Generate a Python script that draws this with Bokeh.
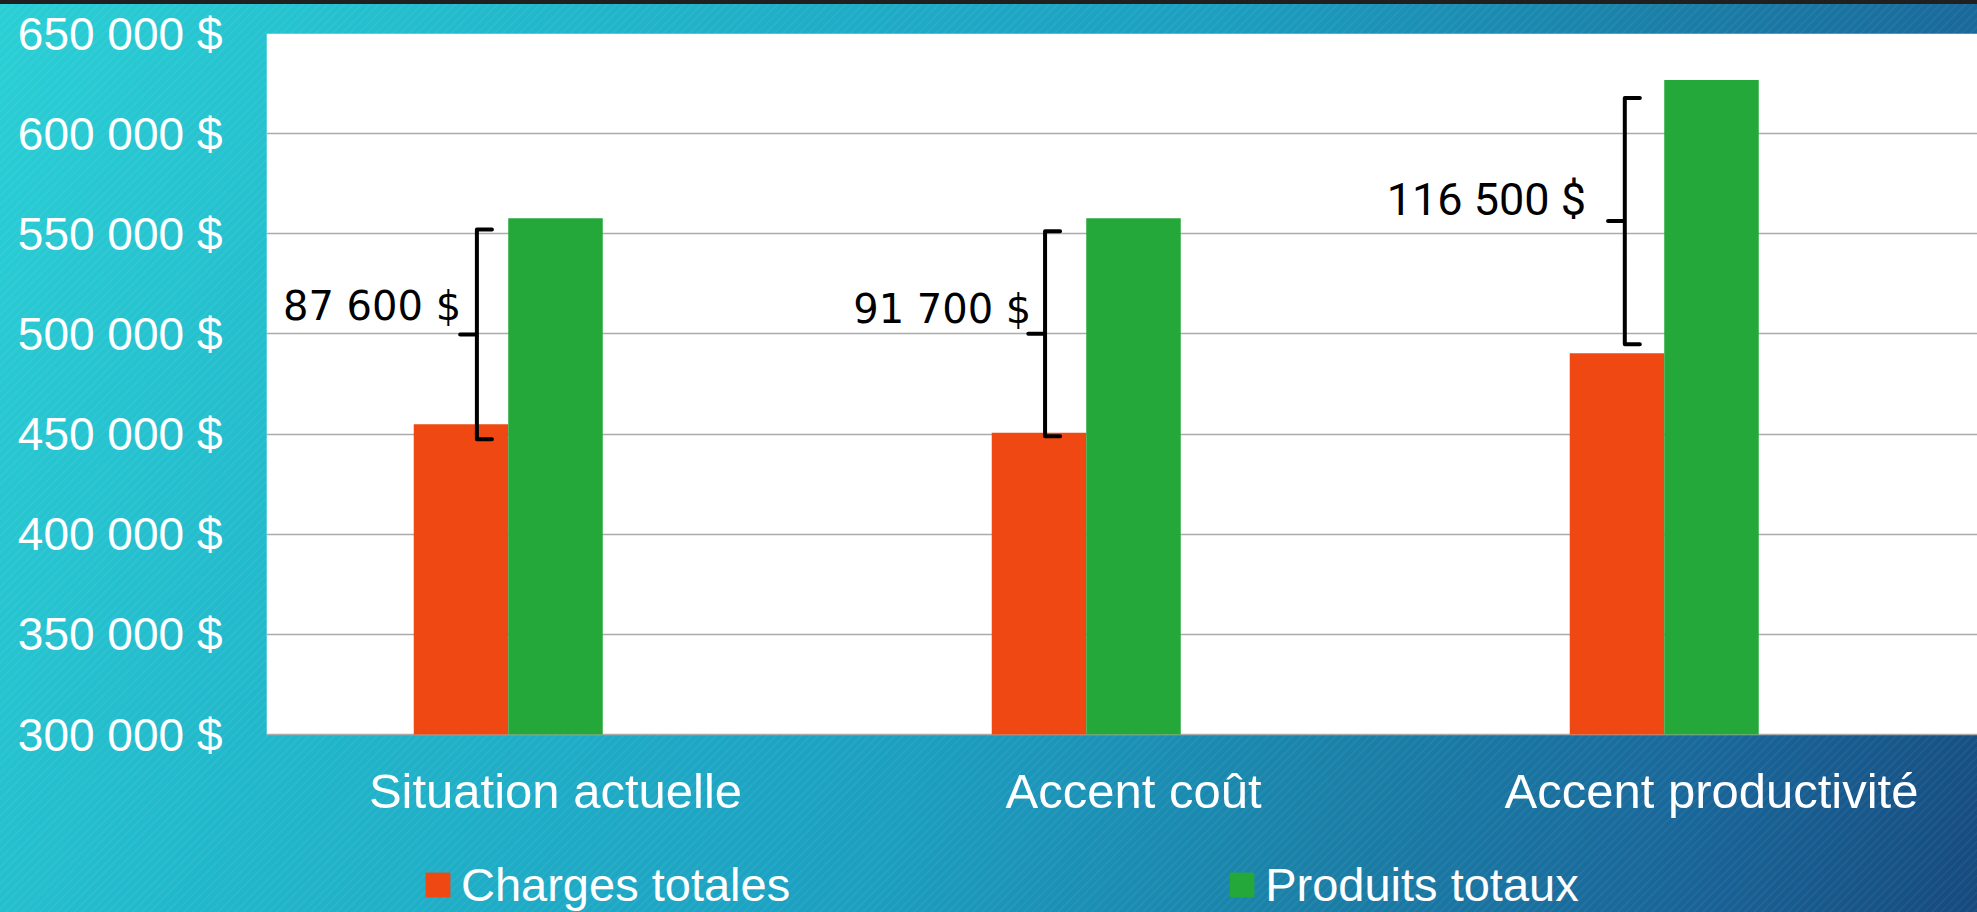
from bokeh.plotting import figure
from bokeh.models import ColumnDataSource, Range1d, FixedTicker, Legend, LegendItem
from bokeh.core.properties import value
from bokeh.embed import file_html
from bokeh.resources import INLINE

# ---------------- data ----------------
categories = ["Situation actuelle", "Accent coût", "Accent productivité"]
charges_totales = [454900, 450600, 490400]
produits_totaux = [557700, 557800, 626800]
ecart_labels = ["87 600 $", "91 700 $", "116 500 $"]
accolade_haut = [552100, 551300, 617800]
accolade_bas = [447400, 448900, 494900]
y_ticks = [300000, 350000, 400000, 450000, 500000, 550000, 600000, 650000]

# ---------------- style / layout ----------------
ORANGE = "#F04812"
GREEN = "#23A839"
BAR_W = 0.1635
brace_dx = [-0.136, -0.153, -0.150]
HOOK = 0.026
NOTCH = 0.029
label_fonts = ["DejaVu Sans", "DejaVu Sans", "Roboto"]
label_sizes = ["40px", "40px", "45px"]
label_dx = [1, 3, -22]
label_dy = [-28, -25, -22]

W, H = 1977, 912
FRAME_LEFT, FRAME_TOP = 266, 33
PLOT_BOTTOM_PX = 734          # pixel row of the lowest gridline
X_END = (W - FRAME_LEFT) / 578.0
y_lo, y_hi = y_ticks[0], y_ticks[-1]
span = y_hi - y_lo
# extend the range below the plot area so that the legend sits inside the frame
y_start = y_lo - span * (H - PLOT_BOTTOM_PX) / (PLOT_BOTTOM_PX - FRAME_TOP)

centers = [i + 0.5 for i in range(len(categories))]

src = ColumnDataSource(dict(
    xc=[c - BAR_W for c in centers],
    xp=centers,
    charges=charges_totales,
    produits=produits_totaux,
))

bg = ("linear-gradient(#202020, #202020) 0 0 / 100% 4px no-repeat, "
      "repeating-linear-gradient(135deg, rgba(255,255,255,0.045) 0px, rgba(255,255,255,0.045) 2px, "
      "rgba(255,255,255,0) 2px, rgba(255,255,255,0) 6px), "
      "linear-gradient(112deg, #2ACFD5 0%, #21B6CA 25%, #1C9FC1 52%, #1A7EA6 72%, #19679A 86%, #164A7D 100%)")

p = figure(width=W, height=H, output_backend="svg", toolbar_location=None,
           x_range=Range1d(0, X_END), y_range=Range1d(y_start, y_hi),
           min_border_left=FRAME_LEFT, min_border_right=0, min_border_top=FRAME_TOP,
           min_border_bottom=0, styles={"background": bg})
p.border_fill_color = None
p.border_fill_alpha = 0
p.background_fill_color = None
p.background_fill_alpha = 0
p.outline_line_color = None

# white plotting area
p.quad(left=[0], right=[X_END], bottom=[y_lo], top=[y_hi], fill_color="white",
       line_color=None, level="image")

r_ch = p.vbar(x="xc", top="charges", bottom=y_lo, width=BAR_W, source=src,
              fill_color=ORANGE, line_color=None)
r_pr = p.vbar(x="xp", top="produits", bottom=y_lo, width=BAR_W, source=src,
              fill_color=GREEN, line_color=None)

# braces
xs, ys = [], []
for i, c in enumerate(centers):
    bx = c + brace_dx[i]
    top, bot = accolade_haut[i], accolade_bas[i]
    mid = (top + bot) / 2
    xs.append([bx + HOOK, bx, bx, bx - NOTCH, bx, bx, bx + HOOK])
    ys.append([top, top, mid, mid, mid, bot, bot])
p.multi_line(xs=xs, ys=ys, line_color="black", line_width=4, line_join="round", line_cap="round")

for i, c in enumerate(centers):
    bx = c + brace_dx[i]
    mid = (accolade_haut[i] + accolade_bas[i]) / 2
    p.text(x=[bx - NOTCH], y=[mid], text=[ecart_labels[i]], text_align="right",
           text_baseline="middle", x_offset=label_dx[i], y_offset=label_dy[i],
           text_font=value(label_fonts[i]), text_font_size=value(label_sizes[i]), text_color="black")

# axes
p.yaxis.ticker = FixedTicker(ticks=y_ticks)
p.yaxis.major_label_overrides = {t: f"{t:,}".replace(",", " ") + " $" for t in y_ticks}
p.yaxis.major_label_text_font = "Liberation Sans"
p.yaxis.major_label_text_font_size = "46px"
p.yaxis.major_label_text_color = "white"
p.yaxis.major_label_standoff = 38
p.yaxis.axis_line_color = None
p.yaxis.major_tick_line_color = None
p.yaxis.minor_tick_line_color = None

p.xaxis.fixed_location = y_lo
p.xaxis.ticker = FixedTicker(ticks=centers)
p.xaxis.major_label_overrides = {c: n for c, n in zip(centers, categories)}
p.xaxis.major_label_text_font = "Liberation Sans"
p.xaxis.major_label_text_font_size = "49px"
p.xaxis.major_label_text_color = "white"
p.xaxis.major_label_standoff = 23
p.xaxis.axis_line_color = None
p.xaxis.major_tick_line_color = None
p.xaxis.minor_tick_line_color = None

p.xgrid.grid_line_color = None
p.ygrid.grid_line_color = "#ABABAB"
p.ygrid.grid_line_width = 1.5

# legend
legend = Legend(items=[LegendItem(label="Charges totales", renderers=[r_ch]),
                       LegendItem(label="Produits totaux", renderers=[r_pr])],
                location=(156, 0), orientation="horizontal",
                glyph_width=31, glyph_height=31, label_standoff=8,
                padding=0, margin=0, spacing=436, border_line_color=None,
                background_fill_alpha=0,
                label_text_font="Liberation Sans", label_text_font_size="47px",
                label_text_color="white")
p.add_layout(legend, "center")

open("out.html", "w").write(file_html(p, INLINE))
